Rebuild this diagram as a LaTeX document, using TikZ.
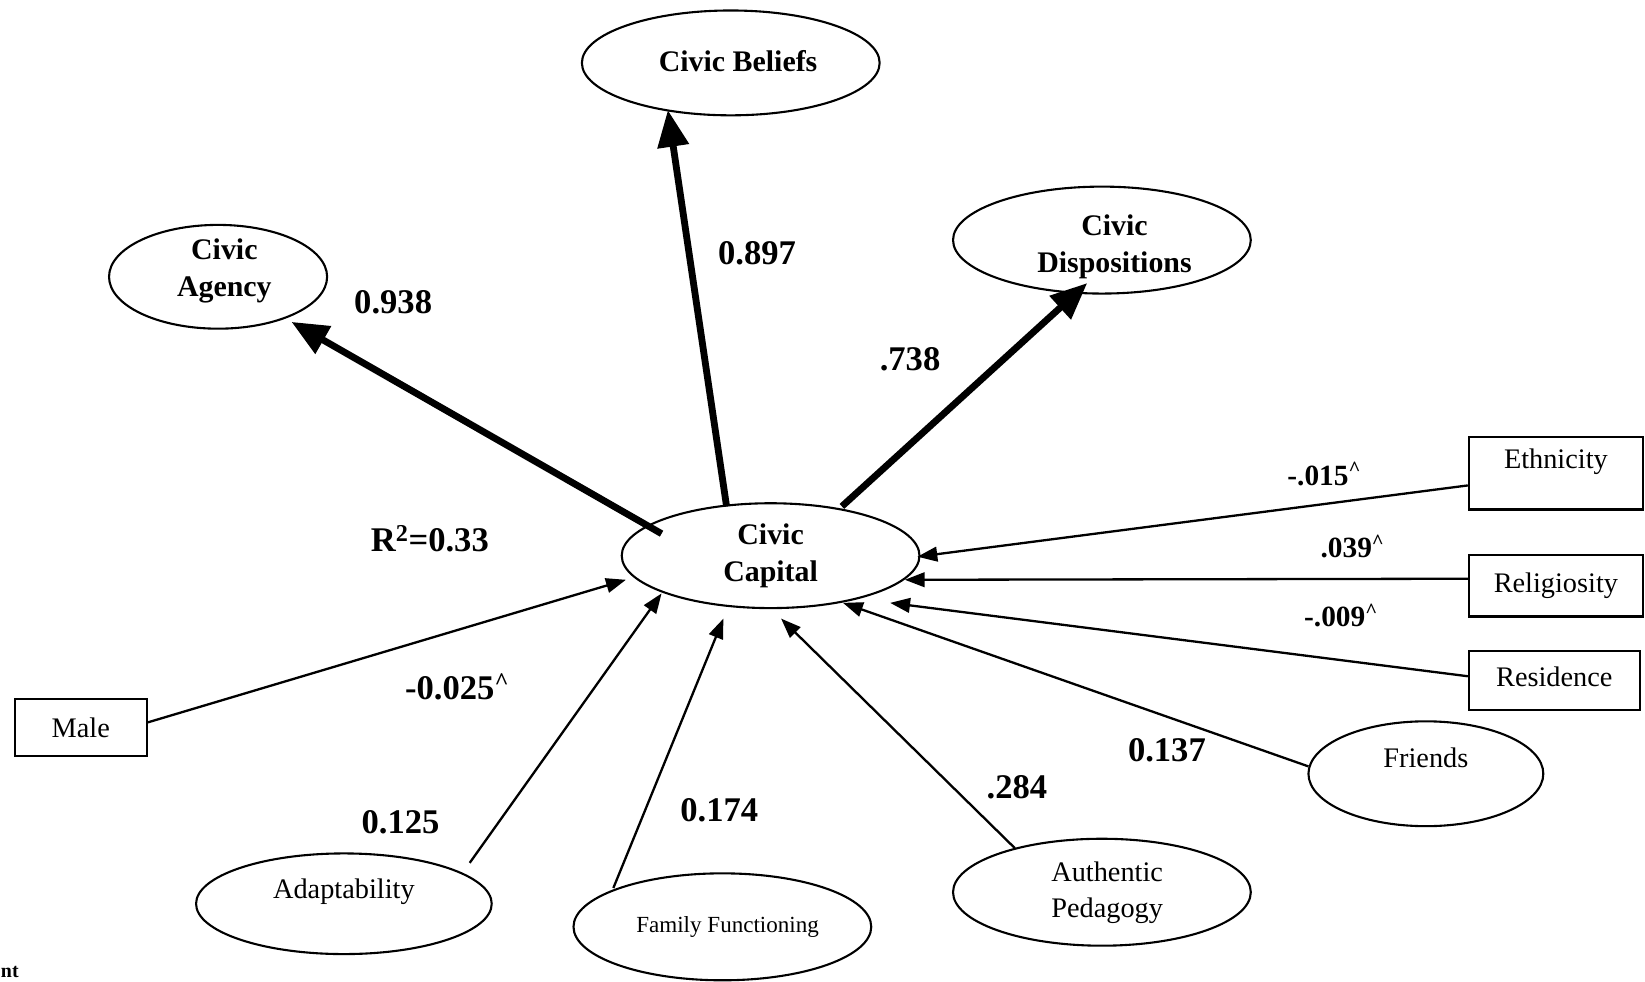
\documentclass[tikz,border=0pt]{standalone}
\usepackage{fontspec}
\setmainfont{Liberation Serif}
\usetikzlibrary{shapes.geometric,arrows.meta,calc}
\newcommand\twoln[2]{\begin{tabular}{@{}c@{}}#1\\#2\end{tabular}}
\newcommand\crt{\textsuperscript{\textasciicircum}}
\newcommand\shiftup[2]{\raisebox{#1}[\height][\depth]{#2}}
\begin{document}
\begin{tikzpicture}[x=1pt,y=-1pt,
  ell/.style={draw,line width=2pt,ellipse,inner sep=0pt,fill=white},
  box/.style={draw,line width=2pt,rectangle,inner sep=0pt,fill=white},
  bt/.style={font=\fontsize{28.5}{35}\selectfont\bfseries},
  rt/.style={font=\fontsize{27}{34}\selectfont},
  lab/.style={font=\fontsize{33}{38}\selectfont\bfseries,inner sep=0pt},
  slab/.style={font=\fontsize{28}{34}\selectfont\bfseries,inner sep=0pt},
  bigarrow/.style={line width=6.5pt,-{Triangle[length=35pt,width=29pt]}},
  thinarrow/.style={line width=2.2pt,-{Triangle[length=19pt,width=14pt]}},
]
\useasboundingbox[fill=white] (0,0) rectangle (1569,936);

% nodes
\node[ell,minimum width=284pt,minimum height=100pt,bt] (cap) at (735,530) {\twoln{Civic}{Capital}};
\node[ell,minimum width=208pt,minimum height=96pt,bt] (agency) at (208,264) {\hspace*{12pt}\shiftup{6pt}{\twoln{Civic}{Agency}}};
\node[ell,minimum width=284pt,minimum height=100pt,bt] (beliefs) at (697,60) {\hspace*{14pt}\shiftup{2pt}{Civic Beliefs}};
\node[ell,minimum width=284pt,minimum height=102pt,bt] (disp) at (1051,229) {\hspace*{24pt}\shiftup{-6pt}{\twoln{Civic}{Dispositions}}};

\node[box,minimum width=166pt,minimum height=69pt,rt] (eth) at (1484,451.5) {\shiftup{11pt}{Ethnicity}};
\node[box,minimum width=166pt,minimum height=59pt,rt] (rel) at (1484,558.5) {Religiosity};
\node[box,minimum width=163pt,minimum height=56pt,rt] (res) at (1482.5,649) {\shiftup{3pt}{Residence}};
\node[box,minimum width=126pt,minimum height=54pt,rt] (male) at (77,694) {Male};

\node[ell,minimum width=224pt,minimum height=100pt,rt] (friends) at (1360,738) {\shiftup{15pt}{Friends}};
\node[ell,minimum width=284pt,minimum height=102pt,rt] (auth) at (1051,851) {\hspace*{10pt}\twoln{Authentic}{Pedagogy}};
\node[ell,minimum width=284pt,minimum height=102pt,font=\fontsize{22}{26}\selectfont] (family) at (689,884) {\hspace*{10pt}Family Functioning};
\node[ell,minimum width=282pt,minimum height=96pt,rt] (adapt) at (328,862) {\shiftup{11pt}{Adaptability}};

% thick arrows out of Civic Capital
\draw[bigarrow] ($(cap)+(-104,-21)$) -- ($(agency)+(70,43)$);
\draw[bigarrow] ($(cap)+(-42,-47)$) -- ($(beliefs)+(-60,45)$);
\draw[bigarrow] ($(cap)+(68,-47)$) -- ($(disp)+(-14,41)$);

% thin arrows into Civic Capital
\draw[thinarrow] ($(eth.west)+(0,11.5)$) -- ($(cap)+(140,1)$);
\draw[thinarrow] ($(rel.west)+(0,-6.5)$) -- ($(cap)+(128,23)$);
\draw[thinarrow] ($(res.west)+(0,-4)$) -- ($(cap)+(114,45)$);
\draw[thinarrow] ($(friends)+(-112,-7)$) -- ($(cap)+(69,45)$);
\draw[thinarrow] ($(auth)+(-83,-42)$) -- ($(cap)+(10,60)$);
\draw[thinarrow] ($(family)+(-104,-37)$) -- ($(cap)+(-45,60)$);
\draw[thinarrow] ($(adapt)+(120,-39)$) -- ($(cap)+(-104,36)$);
\draw[thinarrow] ($(male.east)+(0,-5)$) -- ($(cap)+(-138,23)$);

% labels
\node[lab] (l1) at (375,288) {0.938};
\node[lab] (l2) at (722,242) {0.897};
\node[lab] (l3) at (868,343) {.738};
\node[lab] (l4) at (410,514) {R\textsuperscript{2}=0.33};
\node[lab] (l5) at (436,655) {-0.025\crt};
\node[lab] (l6) at (382,784) {0.125};
\node[lab] (l7) at (686,773) {0.174};
\node[lab] (l8) at (970,751) {.284};
\node[lab] (l9) at (1113,716) {0.137};
\node[slab] (l10) at (1263,452) {-.015\crt};
\node[slab] (l11) at (1290,521) {.039\crt};
\node[slab] (l12) at (1279,587) {-.009\crt};
\node[font=\fontsize{19}{22}\selectfont\bfseries,inner sep=0pt,anchor=east] (nt) at (18,927) {nt};
\end{tikzpicture}
\end{document}
